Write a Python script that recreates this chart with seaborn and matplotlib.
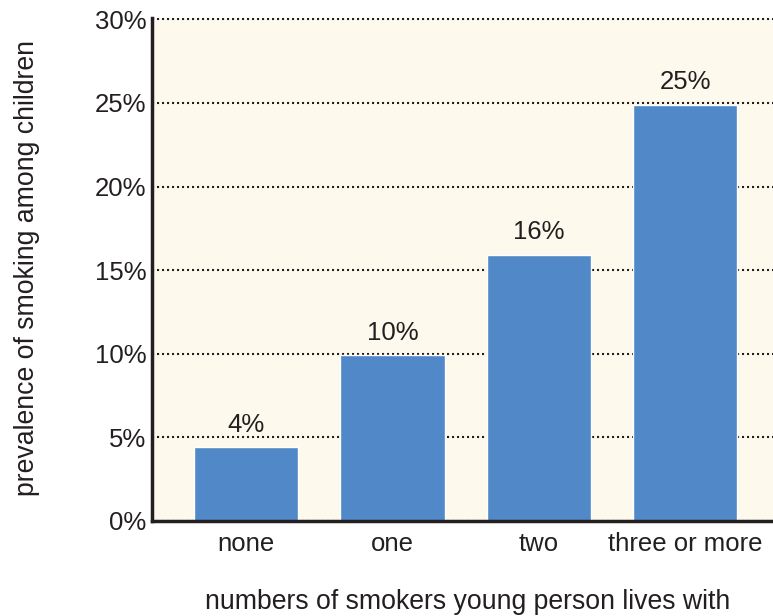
import matplotlib
matplotlib.use("Agg")
import matplotlib.pyplot as plt
import seaborn as sns
import pandas as pd
from matplotlib.ticker import FuncFormatter

categories = ["none", "one", "two", "three or more"]
values = [4.4, 9.9, 15.9, 24.9]
bar_labels = ["4%", "10%", "16%", "25%"]
yticks = [0, 5, 10, 15, 20, 25, 30]

sns.set_style("white")
plt.rcParams['font.family'] = ['Liberation Sans', 'DejaVu Sans']

text_color = "#231F20"
fs = 18.5
fs_lab = 19.2
fig = plt.figure(figsize=(7.73, 6.16), dpi=100)
ax_h = 521 - 18
ax = fig.add_axes([152/773, 1 - 521/616, 1 - 152/773, ax_h/616])
ax.set_facecolor("#FDF9EC")

df = pd.DataFrame({"cat": categories, "val": values})
sns.barplot(data=df, x="cat", y="val", color="#5088C8", saturation=1,
            width=0.714, ax=ax, zorder=3)

ax.set_ylim(0, 30.08)
ax.set_xlim(-0.643, 3.6)
ax.set_yticks(yticks)
ax.yaxis.set_major_formatter(FuncFormatter(lambda v, p: f"{int(v)}%"))
ax.grid(axis="y", linestyle=(0, (1, 1.4)), color=text_color, linewidth=1.5, zorder=0)
ax.grid(axis="x", visible=False)
ax.set_axisbelow(True)

for s in ["top", "right"]:
    ax.spines[s].set_visible(False)
for s in ["left", "bottom"]:
    ax.spines[s].set_color(text_color)
    ax.spines[s].set_linewidth(2.5)
    ax.spines[s].set_zorder(5)

ax.tick_params(axis="both", length=0, labelsize=fs, colors=text_color)
ax.tick_params(axis="y", pad=4)
ax.tick_params(axis="x", pad=8)

for i, (v, lab) in enumerate(zip(values, bar_labels)):
    ax.text(i, v + 0.65, lab, ha="center", va="bottom", fontsize=fs, color=text_color)

ax.set_xlabel("numbers of smokers young person lives with", fontsize=fs_lab, color=text_color)
ax.set_ylabel("prevalence of smoking among children", fontsize=fs_lab, color=text_color)
ax.xaxis.set_label_coords((468 - 152) / (773 - 152), -(589 - 521) / ax_h)
ax.yaxis.set_label_coords(-(152 - 40) / (773 - 152), (521 - 268) / ax_h)

fig.savefig("out.png", dpi=100, facecolor="white")
